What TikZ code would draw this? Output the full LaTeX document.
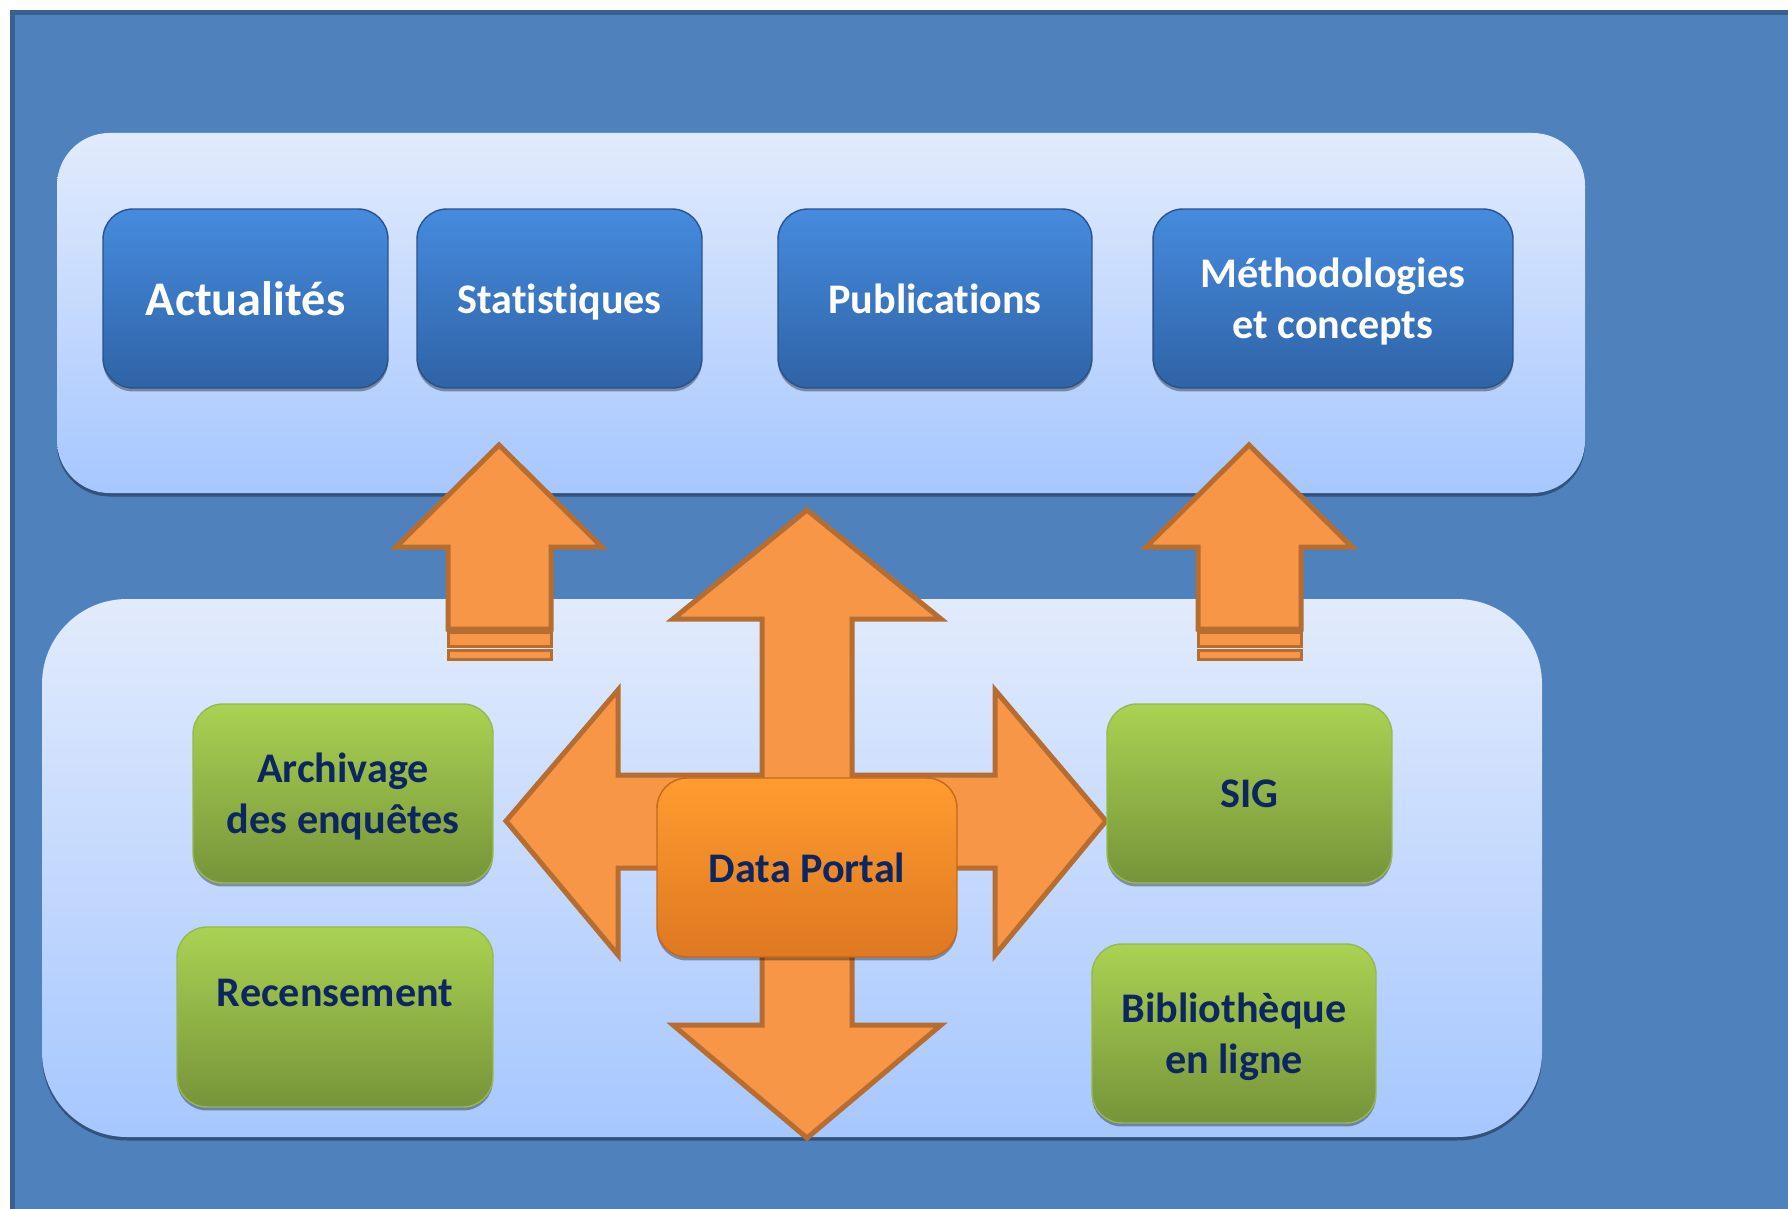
\documentclass[tikz,border=0pt]{standalone}
\usepackage{fontspec}
\setmainfont[Ligatures={NoCommon}]{Carlito}
\usepackage{tikz}
\usetikzlibrary{positioning}
\usetikzlibrary{shadows}
\usetikzlibrary{math}

\definecolor{bgBlue}{RGB}{79,129,189}
\definecolor{bgEdge}{RGB}{58,95,140}
\definecolor{panelTop}{RGB}{226,235,252}
\definecolor{panelBot}{RGB}{166,199,255}
\definecolor{btnTop}{RGB}{70,139,222}
\definecolor{btnBot}{RGB}{47,99,166}
\definecolor{btnEdge}{RGB}{42,82,140}
\definecolor{grnTop}{RGB}{170,210,82}
\definecolor{grnBot}{RGB}{118,148,58}
\definecolor{grnEdge}{RGB}{150,185,80}
\definecolor{arrFill}{RGB}{247,150,70}
\definecolor{arrEdge}{RGB}{182,109,49}
\definecolor{dpTop}{RGB}{255,156,46}
\definecolor{dpBot}{RGB}{222,120,34}
\definecolor{dpEdge}{RGB}{196,104,30}
\definecolor{navy}{RGB}{14,38,96}

\tikzset{
  softshadow/.style={drop shadow={shadow xshift=0pt, shadow yshift=-0.07cm, opacity=0.35, fill=black}},
  panel/.style={rounded corners=#1, top color=panelTop, bottom color=panelBot, softshadow},
  topbtn/.style={rectangle, rounded corners=0.6cm, draw=btnEdge, line width=0.8pt,
    top color=btnTop, bottom color=btnBot, text=white, align=center, text depth=0pt,
    font=\fontsize{24}{29}\selectfont\bfseries, minimum height=3.58cm, softshadow},
  grnbox/.style={rectangle, rounded corners=0.6cm, draw=grnEdge, line width=0.8pt,
    top color=grnTop, bottom color=grnBot, text=navy, align=center, text depth=0pt,
    font=\fontsize{24}{29}\selectfont\bfseries, minimum height=3.58cm, softshadow},
  portal/.style={rectangle, rounded corners=0.6cm, draw=dpEdge, line width=0.8pt,
    top color=dpTop, bottom color=dpBot, text=navy,
    font=\fontsize{24}{29}\selectfont\bfseries, minimum width=6cm, minimum height=3.58cm, softshadow},
  bigarrow/.style={fill=arrFill, draw=arrEdge, line width=0.1cm, line join=miter}
}

\begin{document}
\begin{tikzpicture}[x=0.02cm, y=-0.02cm]
  \useasboundingbox (0,0) rectangle (1788,1209);
  \fill[white] (0,0) rectangle (1788,1209);

  % background
  \fill[bgBlue] (10,10) rectangle (1788,1209);
  \draw[bgEdge, line width=0.1cm] (12.5,1209) -- (12.5,12.5) -- (1788,12.5);

  % panels
  \path[panel=1.05cm] (57,133) rectangle (1585,493);
  \path[panel=1.7cm] (42,599) rectangle (1542,1137);

  % up arrows to the top panel
  \foreach \ax in {499,1249} {
    \draw[bigarrow] (\ax,445) -- (\ax+103,547) -- (\ax+52,547) -- (\ax+52,629)
      -- (\ax-51,629) -- (\ax-51,547) -- (\ax-103,547) -- cycle;
    \draw[bigarrow, line width=0.06cm] (\ax-51,632) rectangle (\ax+52,646);
    \draw[bigarrow, line width=0.06cm] (\ax-51,650) rectangle (\ax+52,659);
  }

  % four-way arrow
  \coordinate (C) at (807,821);
  \draw[bigarrow] (807,510) -- (941,619) -- (852,619) -- (852,775) -- (995,775)
    -- (995,690) -- (1106,821) -- (995,955) -- (995,868) -- (852,868)
    -- (852,1025) -- (941,1025) -- (807,1138) -- (673,1025) -- (762,1025)
    -- (762,868) -- (618,868) -- (618,955) -- (506,821) -- (618,690)
    -- (618,775) -- (762,775) -- (762,619) -- (673,619) -- cycle;

  % top services
  \node[topbtn, minimum width=5.7cm, font=\fontsize{27.5}{32}\selectfont\bfseries] (actu) at (245.5,298.5) {Actualités};
  \node[topbtn, minimum width=5.7cm] (stat) at (559.5,298.5) {Statistiques};
  \node[topbtn, minimum width=6.28cm] (publ) at (935,298.5) {Publications};
  \node[topbtn, minimum width=7.2cm] (meth) at (1333,298.5) {Méthodologies\\et concepts};

  % bottom services
  \node[grnbox, minimum width=6cm] (arch) at (343,793.5) {Archivage\\des enquêtes};
  \node[grnbox, minimum width=6.32cm, minimum height=3.6cm, text height=0.6cm, text depth=1.02cm] (rec) at (335,1017) {Recensement};
  \node[grnbox, minimum width=5.7cm] (sig) at (1249.5,793.5) {SIG};
  \node[grnbox, minimum width=5.68cm] (bib) at (1234,1033.5) {Bibliothèque\\en ligne};

  \node[portal] (dp) at (807,867.5) {Data Portal};
\end{tikzpicture}
\end{document}
